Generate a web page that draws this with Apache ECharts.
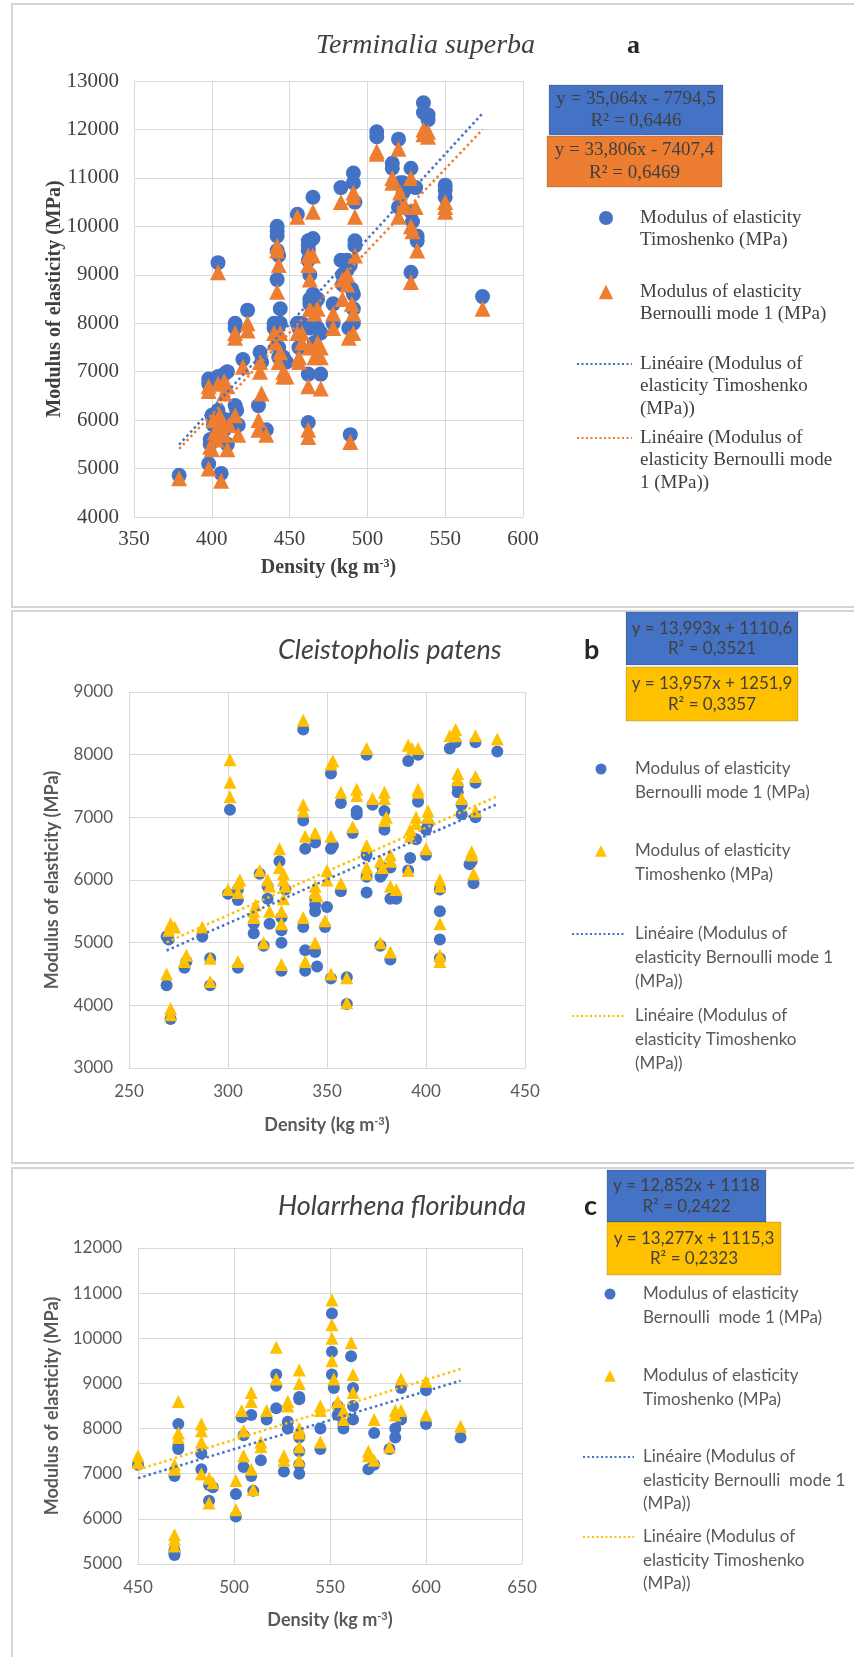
<!DOCTYPE html>
<html><head><meta charset="utf-8">
<script src="https://cdn.jsdelivr.net/npm/echarts@6/dist/echarts.min.js"></script>
<style>html,body{margin:0;padding:0;background:#fff}#c{width:854px;height:1657px}</style>
</head><body><div id="c"></div>
<script>
// ---------- Panel a : Terminalia superba ----------
const aTimoshenko = [[379,4860],[398,6850],[398,6750],[398,5100],[399,5600],[399,5500],[400,6100],[401,5900],[402,6000],[404,9250],[404,6900],[404,6200],[405,5900],[406,4900],[406,6050],[408,6950],[408,5800],[410,7000],[410,5500],[410,6000],[415,8000],[415,7900],[415,6300],[416,6200],[417,5900],[420,7250],[423,8270],[430,6300],[431,7400],[432,7200],[435,5800],[440,8000],[440,7900],[442,8900],[442,10000],[442,9900],[442,9800],[442,9500],[443,9400],[443,7500],[443,7300],[444,8300],[444,8000],[446,7300],[448,7200],[455,10250],[455,8000],[456,7900],[456,7500],[458,8000],[462,9700],[462,9600],[462,9500],[462,9300],[463,9000],[463,8500],[463,8400],[462,6950],[462,5950],[463,7900],[465,10600],[465,9750],[465,8600],[466,8400],[466,7600],[468,8500],[468,7900],[470,6950],[470,7800],[478,8400],[478,8000],[483,10800],[483,9300],[484,9000],[484,8800],[487,9300],[487,9100],[488,7900],[489,5700],[489,9200],[490,8700],[491,11100],[491,10900],[492,10500],[492,9700],[492,9600],[491,8600],[491,8300],[491,8000],[506,11950],[506,11850],[516,11300],[516,11200],[520,11800],[520,10400],[521,10900],[523,10900],[523,10700],[528,11200],[528,10300],[529,10100],[528,9050],[531,10800],[532,9800],[532,9700],[536,12550],[536,12350],[539,12300],[539,12200],[550,10850],[550,10750],[550,10600],[574,8550]];
const aBernoulli = [[379,4800],[398,6700],[398,6600],[398,5000],[399,5450],[400,5400],[401,6000],[402,5750],[403,5600],[404,9050],[404,6750],[405,6100],[405,5800],[406,4750],[407,5900],[408,6800],[408,6550],[408,5700],[410,6700],[410,5400],[411,5900],[415,7800],[415,7700],[415,6100],[417,5700],[420,7100],[423,8000],[423,7850],[430,6000],[430,5800],[431,7200],[431,7000],[432,6550],[435,5700],[440,7800],[440,7600],[442,8650],[442,9600],[442,9500],[443,9200],[443,7200],[444,7800],[444,7400],[446,7000],[446,6900],[448,6900],[455,10200],[455,7800],[456,7300],[456,7200],[458,7800],[458,7600],[462,9400],[462,9200],[463,8900],[463,8300],[462,6700],[462,5800],[462,5650],[463,7500],[465,10300],[465,9400],[466,8200],[466,7300],[468,8300],[468,7600],[470,6650],[470,7500],[470,7300],[478,8200],[478,7900],[483,10500],[484,8900],[484,8500],[487,9000],[487,8800],[488,7700],[489,5550],[490,8400],[491,10600],[491,10700],[492,10200],[492,9400],[491,8200],[491,7800],[506,11550],[506,11500],[516,10900],[516,11000],[520,11600],[520,10200],[521,10700],[523,10500],[523,10400],[528,11000],[528,10000],[529,9900],[528,8850],[531,10400],[532,9500],[536,12000],[536,11900],[539,11950],[539,11850],[550,10500],[550,10400],[550,10300],[574,8300]];
const aSlopes = [35.064, 33.806];
const aIntercepts = [-7794.5, -7407.4];
const aEquations = ['y = 35,064x - 7794,5\nR² = 0,6446', 'y = 33,806x - 7407,4\nR² = 0,6469'];
const aLegend = ['Modulus of elasticity\nTimoshenko (MPa)', 'Modulus of elasticity\nBernoulli mode 1 (MPa)', 'Linéaire (Modulus of\nelasticity Timoshenko\n(MPa))', 'Linéaire (Modulus of\nelasticity Bernoulli mode\n1 (MPa))'];

// ---------- Panel b : Cleistopholis patens ----------
const bBernoulli = [[271,3780],[269,4320],[269,5100],[270,5050],[278,4600],[279,4700],[287,5100],[291,4750],[291,4320],[301,7120],[300,5780],[305,5680],[305,5850],[305,4600],[313,5150],[313,5300],[316,6100],[318,4950],[320,5700],[320,5900],[321,5300],[326,6300],[327,5000],[327,5200],[327,5400],[327,4550],[329,5850],[338,6950],[338,8400],[339,6500],[338,5250],[339,4880],[339,4550],[344,6600],[344,5500],[344,5600],[344,5700],[345,4620],[344,4850],[349,5250],[350,5570],[352,7700],[352,6500],[353,6550],[352,4430],[357,7230],[357,5820],[360,4450],[360,4020],[363,6750],[365,7050],[365,7100],[370,8000],[370,5800],[370,6050],[370,6400],[373,7200],[377,4950],[377,6050],[378,6100],[378,6200],[379,7100],[379,6800],[382,5700],[382,6200],[382,4730],[385,5700],[391,6150],[392,6350],[391,7900],[395,6650],[396,7250],[396,8000],[400,6400],[400,6800],[401,6900],[407,5850],[407,5500],[407,5050],[407,4750],[412,8100],[415,8200],[416,7500],[416,7400],[418,7200],[418,7050],[422,6250],[423,6300],[424,5950],[425,7000],[425,7550],[425,8200],[436,8050]];
const bTimoshenko = [[271,3950],[271,3850],[269,4500],[270,5200],[271,5300],[273,5250],[278,4700],[279,4800],[287,5250],[291,4750],[291,4380],[301,7330],[301,7560],[301,7920],[300,5850],[305,5800],[305,5950],[306,6000],[305,4700],[313,5400],[313,5500],[314,5600],[316,6150],[318,5000],[320,6000],[321,5900],[321,5500],[326,6500],[326,6200],[327,5300],[327,5500],[328,5700],[328,6000],[328,6100],[327,4650],[329,5900],[338,7100],[338,7200],[338,8550],[339,6700],[338,5400],[339,4700],[344,6750],[344,5800],[344,5900],[345,5750],[344,5000],[349,5350],[350,6000],[350,6150],[352,7850],[353,7900],[352,6700],[352,4500],[357,7400],[357,5950],[360,4440],[360,4040],[363,6850],[365,7350],[365,7450],[370,8100],[370,6100],[370,6200],[370,6550],[373,7300],[377,5000],[377,6300],[378,6200],[379,7300],[379,7400],[379,6950],[380,7000],[382,5900],[382,6400],[382,6300],[382,4850],[385,5850],[391,6150],[392,6700],[392,6800],[391,8150],[393,8100],[395,6900],[395,7000],[396,7400],[396,7450],[396,8100],[400,6500],[401,7000],[401,7100],[407,6000],[407,5900],[407,5300],[407,4700],[407,4800],[412,8300],[415,8400],[415,8300],[416,7700],[416,7600],[418,7300],[423,6450],[423,6400],[424,6100],[425,7100],[425,7650],[425,8300],[436,8250]];
const bSlopes = [13.993, 13.957];
const bIntercepts = [1110.6, 1251.9];
const bEquations = ['y = 13,993x + 1110,6\nR² = 0,3521', 'y = 13,957x + 1251,9\nR² = 0,3357'];
const bLegend = ['Modulus of elasticity\nBernoulli mode 1 (MPa)', 'Modulus of elasticity\nTimoshenko (MPa)', 'Linéaire (Modulus of\nelasticity Bernoulli mode 1\n(MPa))', 'Linéaire (Modulus of\nelasticity Timoshenko\n(MPa))'];

// ---------- Panel c : Holarrhena floribunda ----------
const cBernoulli = [[450,7200],[469,6950],[469,5300],[469,5250],[469,5200],[471,8100],[471,7600],[471,7550],[483,7450],[483,7100],[487,6400],[487,6750],[489,6700],[501,6550],[501,6050],[504,8250],[505,7850],[505,7150],[509,8300],[509,6950],[510,6620],[514,7300],[517,8200],[522,8450],[522,9200],[522,8950],[526,7050],[528,8000],[528,8150],[534,8700],[534,8650],[534,7000],[534,7200],[534,7500],[534,7800],[545,7550],[545,8000],[551,10550],[551,9700],[551,9200],[552,8900],[554,8300],[554,8500],[557,8000],[557,8100],[561,9600],[562,8900],[562,8500],[562,8200],[570,7100],[573,7900],[573,7200],[581,7550],[584,7800],[584,8000],[587,8900],[587,8200],[600,8850],[600,8100],[618,7800]];
const cTimoshenko = [[450,7400],[450,7250],[469,7200],[469,7100],[469,5400],[469,5550],[469,5650],[471,8600],[471,7900],[471,7800],[483,8100],[483,7950],[483,7700],[483,7000],[487,6350],[487,6900],[489,6800],[501,6850],[501,6200],[504,8400],[505,7950],[505,7400],[509,8800],[509,8600],[509,7100],[510,6650],[514,7600],[514,7700],[517,8400],[522,9800],[522,9100],[526,7400],[526,7300],[528,8500],[528,8600],[534,9300],[534,9000],[534,7300],[534,7600],[534,7900],[534,8000],[545,7700],[545,8400],[545,8500],[551,10850],[551,10300],[551,10000],[551,9500],[552,9100],[554,8600],[557,8400],[557,8200],[561,9900],[562,9200],[562,8800],[570,7400],[570,7500],[573,8200],[573,7300],[581,7600],[584,8400],[584,8300],[587,9100],[587,8400],[600,9050],[600,8300],[618,8050]];
const cSlopes = [12.852, 13.277];
const cIntercepts = [1118, 1115.3];
const cEquations = ['y = 12,852x + 1118\nR² = 0,2422', 'y = 13,277x + 1115,3\nR² = 0,2323'];
const cLegend = ['Modulus of elasticity\nBernoulli  mode 1 (MPa)', 'Modulus of elasticity\nTimoshenko (MPa)', 'Linéaire (Modulus of\nelasticity Bernoulli  mode 1\n(MPa))', 'Linéaire (Modulus of\nelasticity Timoshenko\n(MPa))'];

const titles = ['Terminalia superba', 'Cleistopholis patens', 'Holarrhena floribunda'];
const letters = ['a', 'b', 'c'];
const xRanges = [[350, 600], [250, 450], [450, 650]];
const yRanges = [[4000, 13000], [3000, 9000], [5000, 12000]];
const xTitle = 'Density (kg m';
const yTitle = 'Modulus of elasticity (MPa)';

// ---------- styling ----------
const SERIF = '"Liberation Serif","Times New Roman",serif';
const SANS = 'Lato,"Open Sans",sans-serif';
const BLUE = '#4472C4', ORANGE = '#ED7D31', GOLD = '#FFC000';
const GRIDC = '#d9d9d9';

function trend(points, slope, icpt) {
  const xs = points.map(p => p[0]);
  const lo = Math.min(...xs), hi = Math.max(...xs);
  return [[lo, slope * lo + icpt], [hi, slope * hi + icpt]];
}

const P = [
  {grid:{left:134, top:81, width:389, height:436}, font:SERIF, tick:21, tcol:'#404040', xm:12, ym:15,
   circle:aTimoshenko, tri:aBernoulli, cc:BLUE, tc:ORANGE, cs:15, ts:16, slopes:aSlopes, icpts:aIntercepts,
   titleX:316, titleY:46, titleSize:28, titleItalicFont:SERIF, letterX:627, letterSize:26,
   box1:[549,85,174,50], box2:[547,136,175,51], eqSize:19, eq:aEquations,
   leg:aLegend, legMarkX:606, legTextX:640, legY:[218,292,364,438], legLH:22.5, legSize:19, legCol:'#404040',
   lineX:[577,632], yTitleX:55, yTitleSize:20, xTitleY:568, xTitleSize:20},
  {grid:{left:129, top:692, width:396, height:376}, font:SANS, tick:17, tcol:'#595959', xm:15, ym:16,
   circle:bBernoulli, tri:bTimoshenko, cc:BLUE, tc:GOLD, cs:12, ts:13, slopes:bSlopes, icpts:bIntercepts,
   titleX:278, titleY:650, titleSize:27, titleItalicFont:SANS, letterX:584, letterSize:27,
   box1:[626,612,172,53], box2:[626,667,172,54], eqSize:17, eq:bEquations,
   leg:bLegend, legMarkX:601, legTextX:635, legY:[769,851,934,1016], legLH:24, legSize:17, legCol:'#595959',
   lineX:[572,626], yTitleX:52, yTitleSize:18, xTitleY:1125, xTitleSize:18},
  {grid:{left:138, top:1248, width:384, height:316}, font:SANS, tick:17, tcol:'#595959', xm:15, ym:16,
   circle:cBernoulli, tri:cTimoshenko, cc:BLUE, tc:GOLD, cs:12, ts:13, slopes:cSlopes, icpts:cIntercepts,
   titleX:278, titleY:1206, titleSize:27, titleItalicFont:SANS, letterX:584, letterSize:27,
   box1:[607,1170,159,52], box2:[607,1222,174,53], eqSize:17, eq:cEquations,
   leg:cLegend, legMarkX:610, legTextX:643, legY:[1294,1376,1457,1537], legLH:23.5, legSize:17, legCol:'#595959',
   lineX:[583,634], yTitleX:52, yTitleSize:18, xTitleY:1620, xTitleSize:18}
];

const grids = [], xAxes = [], yAxes = [], series = [], graphics = [];
// panel frames
[[12,4,860,603],[12,611,860,552],[12,1168,860,520]].forEach(r => {
  graphics.push({type:'rect', shape:{x:r[0], y:r[1], width:r[2], height:r[3]}, style:{fill:'none', stroke:'#d4d4d4', lineWidth:2}, z:-10});
});

const plain = v => String(v);

P.forEach((p, i) => {
  grids.push(p.grid);
  const axCommon = {
    axisLine:{show:true, onZero:false, lineStyle:{color:GRIDC, width:1}},
    axisTick:{show:false},
    splitLine:{show:true, lineStyle:{color:GRIDC, width:1}}
  };
  xAxes.push(Object.assign({type:'value', gridIndex:i, min:xRanges[i][0], max:xRanges[i][1], interval:50,
    axisLabel:{fontFamily:p.font, fontSize:p.tick, color:p.tcol, margin:p.xm, formatter:plain}}, axCommon));
  yAxes.push(Object.assign({type:'value', gridIndex:i, min:yRanges[i][0], max:yRanges[i][1], interval:1000,
    axisLabel:{fontFamily:p.font, fontSize:p.tick, color:p.tcol, margin:p.ym, formatter:plain}}, axCommon));
  series.push({type:'scatter', xAxisIndex:i, yAxisIndex:i, data:p.circle, symbol:'circle', symbolSize:p.cs,
    itemStyle:{color:p.cc, opacity:1}, z:2, silent:true});
  series.push({type:'scatter', xAxisIndex:i, yAxisIndex:i, data:p.tri, symbol:'triangle', symbolSize:p.ts,
    itemStyle:{color:p.tc, opacity:1}, z:3, silent:true});
  series.push({type:'line', xAxisIndex:i, yAxisIndex:i, data:trend(p.circle, p.slopes[0], p.icpts[0]), symbol:'none',
    lineStyle:{color:p.cc, width:2.5, type:[2.5,3]}, z:4, silent:true});
  series.push({type:'line', xAxisIndex:i, yAxisIndex:i, data:trend(p.tri, p.slopes[1], p.icpts[1]), symbol:'none',
    lineStyle:{color:p.tc, width:2.5, type:[2.5,3]}, z:4, silent:true});

  // title + letter
  graphics.push({type:'text', x:p.titleX, y:p.titleY, style:{text:titles[i], font:'italic ' + p.titleSize + 'px ' + p.titleItalicFont, fill:'#404040', textAlign:'left', textVerticalAlign:'middle'}});
  graphics.push({type:'text', x:p.letterX, y:p.titleY, style:{text:letters[i], font:'bold ' + p.letterSize + 'px ' + p.font, fill:'#262626', textAlign:'left', textVerticalAlign:'middle'}});
  // equation boxes
  [[p.box1, p.cc, p.eq[0]], [p.box2, p.tc, p.eq[1]]].forEach(b => {
    graphics.push({type:'rect', shape:{x:b[0][0], y:b[0][1], width:b[0][2], height:b[0][3]}, style:{fill:b[1], stroke:'rgba(0,0,0,0.15)', lineWidth:1}});
    graphics.push({type:'text', x:b[0][0] + b[0][2] / 2, y:b[0][1] + b[0][3] / 2, style:{text:b[2], font:p.eqSize + 'px ' + p.font, fill:'#404040', textAlign:'center', textVerticalAlign:'middle', lineHeight:p.eqSize * 1.2}});
  });
  // legend
  const L = p.legY;
  graphics.push({type:'circle', shape:{cx:p.legMarkX, cy:L[0], r:p.cs / 2 - 0.5}, style:{fill:p.cc}});
  const h = p.ts * 0.9;
  graphics.push({type:'polygon', shape:{points:[[p.legMarkX, L[1] - h / 2], [p.legMarkX + h / 2, L[1] + h / 2], [p.legMarkX - h / 2, L[1] + h / 2]]}, style:{fill:p.tc}});
  graphics.push({type:'line', shape:{x1:p.lineX[0], y1:L[2], x2:p.lineX[1], y2:L[2]}, style:{stroke:p.cc, lineWidth:2, lineDash:[2,2.5]}});
  graphics.push({type:'line', shape:{x1:p.lineX[0], y1:L[3], x2:p.lineX[1], y2:L[3]}, style:{stroke:p.tc, lineWidth:2, lineDash:[2,2.5]}});
  p.leg.forEach((t, k) => {
    graphics.push({type:'text', x:p.legTextX, y:L[k] - p.legLH / 2, style:{text:t, font:p.legSize + 'px ' + p.font, fill:p.legCol, textAlign:'left', textVerticalAlign:'top', lineHeight:p.legLH}});
  });
  // axis titles
  const g = p.grid;
  graphics.push({type:'text', x:p.yTitleX, y:g.top + g.height / 2, rotation:Math.PI / 2,
    style:{text:yTitle, font:'bold ' + p.yTitleSize + 'px ' + p.font, fill:p.tcol, textAlign:'center', textVerticalAlign:'middle'}});
  graphics.push({type:'text', x:g.left + g.width / 2, y:p.xTitleY,
    style:{text:'{m|' + xTitle + '}{s|-3}{m|)}', textAlign:'center', textVerticalAlign:'middle',
      rich:{m:{font:'bold ' + p.xTitleSize + 'px ' + p.font, fill:p.tcol, verticalAlign:'bottom'},
            s:{font:'bold ' + Math.round(p.xTitleSize * 0.62) + 'px ' + p.font, fill:p.tcol, verticalAlign:'top', padding:[0,0,8,0]}}}});
});

const chart = echarts.init(document.getElementById('c'), null, {renderer:'canvas'});
chart.setOption({
  backgroundColor:'#ffffff',
  animation:false,
  grid:grids, xAxis:xAxes, yAxis:yAxes, series:series,
  graphic:{elements:graphics}
});
</script></body></html>
